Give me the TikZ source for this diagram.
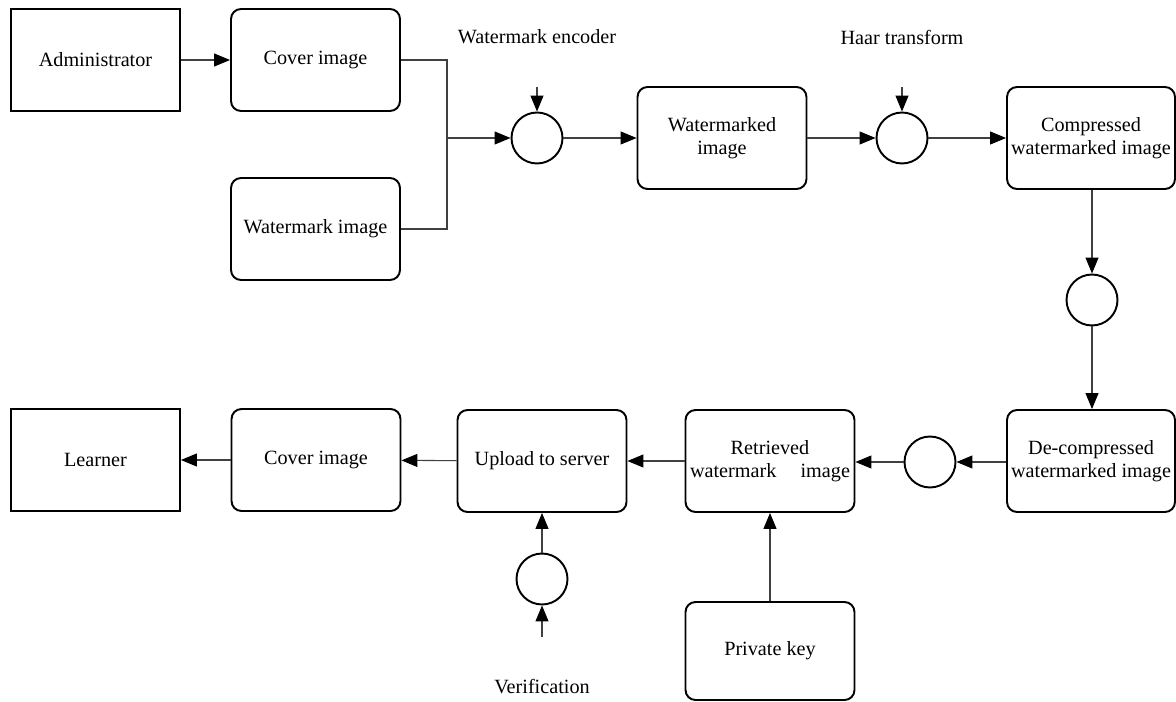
\documentclass[tikz,border=0pt]{standalone}
\usepackage{fontspec}
\setmainfont{Liberation Serif}
\newfontfamily\diagfont{Liberation Serif}
\usetikzlibrary{arrows.meta}
\usetikzlibrary{positioning}

\begin{document}
\begin{tikzpicture}[x=0.02cm, y=-0.02cm,
    every node/.style={font=\diagfont\fontsize{11.5}{12.8}\selectfont, align=center},
    block/.style={draw, line width=1.1pt, rounded corners=0.2cm, minimum width=3.38cm, minimum height=2.04cm, inner sep=1pt},
    actor/.style={block, rounded corners=0pt},
    junc/.style={draw, circle, line width=1.1pt, minimum size=1.02cm, inner sep=0pt},
    link/.style={line width=0.6pt, draw=black!75},
    arr/.style={link, -{Triangle[length=0.32cm, width=0.26cm, color=black]}}]

  \useasboundingbox (0,0) rectangle (1176,702);

  % top row
  \node[actor] (admin) at (95.5,60) {Administrator};
  \node[block] (cover1) at (315.5,60) {Cover image};
  \node[block] (wmimg) at (315.5,229) {Watermark image};
  \node[junc] (enc) at (537,138) {};
  \node[block] (wmd) at (722,138) {Watermarked\\image};
  \node[junc] (haar) at (902,138) {};
  \node[block, minimum width=3.36cm] (comp) at (1091,138) {Compressed\\watermarked image};

  % right column
  \node[junc] (chan) at (1092,300) {};

  % bottom row
  \node[block, minimum width=3.36cm] (decomp) at (1091,461) {De-compressed\\watermarked image};
  \node[junc] (dec) at (930,462) {};
  \node[block] (retr) at (770,461) {Retrieved\\\makebox[3.2cm]{watermark\hfill image}};
  \node[block, minimum height=1.96cm] (pkey) at (770,651) {Private key};
  \node[block] (upload) at (542,461) {Upload to server};
  \node[junc] (verif) at (542,579) {};
  \node[block] (cover2) at (316,460) {Cover image};
  \node[actor] (learner) at (95.5,460) {Learner};

  % captions
  \node (enclabel) at (537,37) {Watermark encoder};
  \node (haarlabel) at (902,37) {Haar transform};
  \node (veriflabel) at (542,687) {Verification};

  % free ends of the short inputs
  \coordinate (jn) at (447,138);
  \coordinate (encin) at (537,87);
  \coordinate (haarin) at (902,87);
  \coordinate (verifin) at (542,637);

  \draw[arr] (admin) -- (cover1);
  \draw[link] (cover1.east) -| (jn);
  \draw[link] (wmimg.east) -| (jn);
  \draw[arr] (jn) -- (enc);
  \draw[arr] (encin) -- (enc.north);
  \draw[arr] (enc) -- (wmd);
  \draw[arr] (wmd) -- (haar);
  \draw[arr] (haarin) -- (haar.north);
  \draw[arr] (haar) -- (comp);
  \draw[arr] (comp.south -| chan) -- (chan);
  \draw[arr] (chan) -- (decomp.north -| chan);
  \draw[arr] (decomp.west |- dec) -- (dec);
  \draw[arr] (dec) -- (retr.east |- dec);
  \draw[arr] (pkey) -- (retr);
  \draw[arr] (retr) -- (upload);
  \draw[arr] (verifin) -- (verif.south);
  \draw[arr] (verif) -- (upload);
  \draw[arr] (upload) -- (cover2);
  \draw[arr] (cover2) -- (learner);

\end{tikzpicture}
\end{document}
